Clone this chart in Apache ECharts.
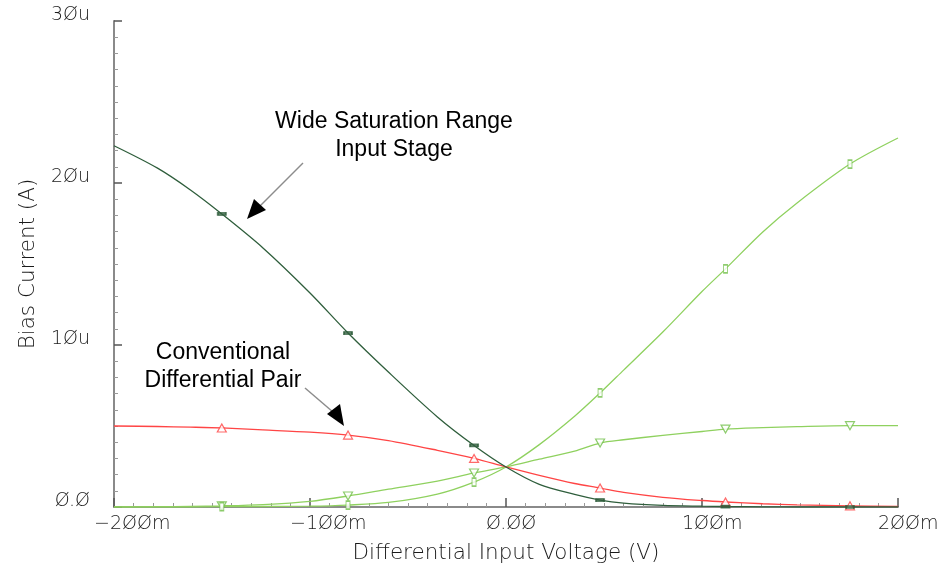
<!DOCTYPE html>
<html>
<head>
<meta charset="utf-8">
<script src="https://cdn.jsdelivr.net/npm/echarts@6/dist/echarts.min.js"></script>
<style>
  html, body { margin: 0; padding: 0; background: #ffffff; }
  #chart { width: 939px; height: 568px; }
</style>
</head>
<body>
<div id="chart"></div>
<script>
// Differential input voltage sweep (V)
const voltage = [-0.2, -0.178, -0.161, -0.145, -0.124, -0.1, -0.0806, -0.06, -0.035, -0.0163, 0,
                 0.017, 0.035, 0.048, 0.06, 0.08, 0.1, 0.112, 0.131, 0.1485, 0.1755, 0.2];

// Bias currents (uA)
const wideNeg = [22.3, 20.93, 19.57, 18.09, 15.99, 13.21, 10.74, 8.33, 5.56, 3.8, 2.47,
                 1.4, 0.78, 0.43, 0.24, 0.1, 0.05, 0.03, 0.01, 0.0, 0.0, 0.0];
const widePos = [0.0, 0.0, 0.0, 0.02, 0.03, 0.05, 0.12, 0.28, 0.8, 1.54, 2.47,
                 3.85, 5.6, 7.04, 8.45, 10.8, 13.3, 14.7, 16.98, 18.77, 21.17, 22.78];
const convNeg = [5.0, 4.97, 4.93, 4.88, 4.76, 4.62, 4.44, 4.1, 3.5, 3.0, 2.47,
                 1.95, 1.45, 1.17, 0.9, 0.6, 0.4, 0.31, 0.2, 0.13, 0.07, 0.03];
const convPos = [0.0, 0.02, 0.04, 0.07, 0.15, 0.35, 0.68, 1.1, 1.6, 2.1, 2.47,
                 2.95, 3.45, 3.95, 4.15, 4.42, 4.66, 4.81, 4.9, 4.96, 5.02, 5.02];

// Sweep points that carry a trace marker
const markerV = [-0.145, -0.0806, -0.0163, 0.048, 0.112, 0.1755];

// Axis tick labels
const xTickLabels = ['\u22122\u00d8\u00d8m', '\u22121\u00d8\u00d8m', '\u00d8.\u00d8\u00d8', '1\u00d8\u00d8m', '2\u00d8\u00d8m'];
const yTickLabels = ['\u00d8.\u00d8', '1\u00d8u', '2\u00d8u', '3\u00d8u'];

const C_DARK = '#2f5e3c';
const C_LIGHT = '#8fd15f';
const C_LIGHT2 = '#72bf4a';
const C_RED = '#ff4545';

const pairs = (xs, ys) => xs.map((x, i) => [x, ys[i]]);
const markerPairs = ys => markerV.map(v => [v, ys[voltage.indexOf(v)]]);

const tickFont = { fontFamily: 'DejaVu Sans', fontWeight: 200, fontSize: 19, color: '#1a1a1a' };
const nameFont = { fontFamily: 'DejaVu Sans', fontWeight: 200, fontSize: 21.5, color: '#1a1a1a' };

function lineSeries(ys, color) {
  return {
    type: 'line', data: pairs(voltage, ys), smooth: 0.3,
    showSymbol: false, lineStyle: { color: color, width: 1.3 }, z: 2, silent: true
  };
}
function markSeries(ys, symbol, size, fill, stroke, rotate) {
  return {
    type: 'scatter', data: markerPairs(ys), symbol: symbol, symbolSize: size,
    symbolRotate: rotate || 0,
    itemStyle: { color: fill, borderColor: stroke, borderWidth: 1.2 }, z: 3, silent: true
  };
}

const chart = echarts.init(document.getElementById('chart'));
chart.setOption({
  animation: false,
  backgroundColor: '#ffffff',
  grid: { left: 114, right: 41, top: 21, bottom: 61, containLabel: false, outerBoundsMode: 'none' },
  xAxis: {
    type: 'value', min: -0.2, max: 0.2, interval: 0.1,
    name: 'Differential Input Voltage (V)', nameLocation: 'middle', nameGap: 35,
    nameTextStyle: nameFont,
    axisLine: { onZero: false, lineStyle: { color: '#8a8a8a', width: 2 } },
    axisTick: { inside: true, length: 9, lineStyle: { color: '#555', width: 1.5 } },
    minorTick: { show: true, splitNumber: 10, length: 4, lineStyle: { color: '#999', width: 1 } },
    splitLine: { show: false },
    axisLabel: Object.assign({}, tickFont, {
      margin: 8, align: 'left', padding: [0, 0, 0, -20],
      formatter: v => xTickLabels[Math.round((v + 0.2) / 0.1)]
    })
  },
  yAxis: {
    type: 'value', min: 0, max: 30, interval: 10,
    name: 'Bias Current (A)', nameLocation: 'middle', nameGap: 75,
    nameTextStyle: nameFont,
    axisLine: { show: true, onZero: false, lineStyle: { color: '#8a8a8a', width: 2 } },
    axisTick: { show: true, inside: true, length: 8, lineStyle: { color: '#555', width: 1.5 } },
    minorTick: { show: true, splitNumber: 10, length: 4, lineStyle: { color: '#999', width: 1 } },
    splitLine: { show: false },
    axisLabel: Object.assign({}, tickFont, {
      margin: 24, verticalAlign: 'bottom', lineHeight: 12,
      formatter: v => yTickLabels[Math.round(v / 10)]
    })
  },
  series: [
    lineSeries(convPos, C_LIGHT),
    lineSeries(widePos, C_LIGHT),
    lineSeries(convNeg, C_RED),
    lineSeries(wideNeg, C_DARK),
    markSeries(convPos, 'triangle', [9, 8], '#ffffff', C_LIGHT2, 180),
    markSeries(widePos, 'rect', [4, 8], '#ffffff', C_LIGHT2),
    markSeries(convNeg, 'triangle', [9, 8], '#ffffff', C_RED),
    markSeries(wideNeg, 'rect', [8, 3], C_DARK, C_DARK)
  ],
  graphic: [
    { type: 'text', x: 394, y: 108, z: 10,
      style: { text: 'Wide Saturation Range\nInput Stage', align: 'center', verticalAlign: 'top',
               fontFamily: 'Liberation Sans', fontSize: 23, lineHeight: 28, fill: '#000' } },
    { type: 'text', x: 223, y: 339, z: 10,
      style: { text: 'Conventional\nDifferential Pair', align: 'center', verticalAlign: 'top',
               fontFamily: 'Liberation Sans', fontSize: 23, lineHeight: 28, fill: '#000' } },
    { type: 'line', z: 10, shape: { x1: 303, y1: 163, x2: 258, y2: 208 },
      style: { stroke: '#8c8c8c', lineWidth: 1.5 } },
    { type: 'polygon', z: 10, shape: { points: [[247, 219], [254, 199], [266, 210]] },
      style: { fill: '#000' } },
    { type: 'line', z: 10, shape: { x1: 305, y1: 388, x2: 333, y2: 412 },
      style: { stroke: '#8c8c8c', lineWidth: 1.5 } },
    { type: 'polygon', z: 10, shape: { points: [[344, 426], [327, 414], [340, 404]] },
      style: { fill: '#000' } }
  ]
});
</script>
</body>
</html>
